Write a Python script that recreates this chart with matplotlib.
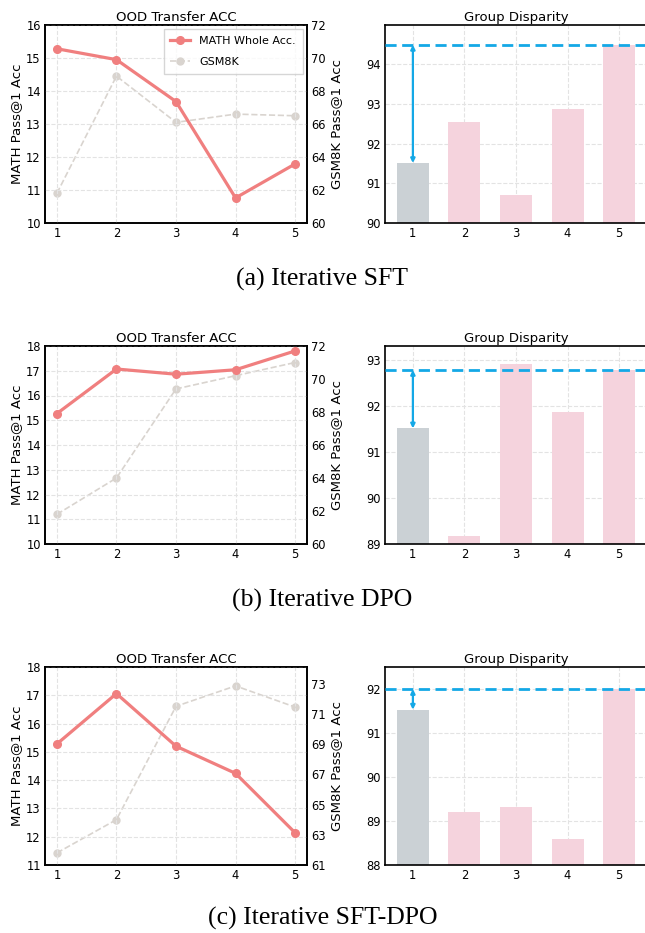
import matplotlib.pyplot as plt
import numpy as np

iters = [1, 2, 3, 4, 5]

# (a) Iterative SFT
sft_math = [15.28, 14.95, 13.68, 10.76, 11.79]
sft_gsm = [61.8, 68.9, 66.1, 66.6, 66.5]
sft_group = [91.51, 92.54, 90.71, 92.88, 94.49]

# (b) Iterative DPO
dpo_math = [15.27, 17.07, 16.86, 17.04, 17.80]
dpo_gsm = [61.8, 64.0, 69.4, 70.2, 71.0]
dpo_group = [91.51, 89.18, 92.90, 91.86, 92.78]

# (c) Iterative SFT-DPO
sftdpo_math = [15.28, 17.06, 15.20, 14.24, 12.14]
sftdpo_gsm = [61.8, 64.0, 71.5, 72.85, 71.45]
sftdpo_group = [91.53, 89.21, 89.32, 88.58, 92.0]

captions = ["(a) Iterative SFT", "(b) Iterative DPO", "(c) Iterative SFT-DPO"]

rows = [
    (sft_math, sft_gsm, sft_group, (10, 16), (60, 72), np.arange(60, 73, 2), (90, 94.99)),
    (dpo_math, dpo_gsm, dpo_group, (10, 18), (60, 72), np.arange(60, 73, 2), (89, 93.3)),
    (sftdpo_math, sftdpo_gsm, sftdpo_group, (11, 18), (61, 74.1), np.arange(61, 74, 2), (88, 92.5)),
]

MATH_C = "#f07f7f"
GSM_C = "#d9d4cf"
BASE_C = "#cbd1d5"
BAR_C = "#f5d3dd"
LINE_C = "#14a8e6"
GRID_C = "#e3e3e3"

W, H = 645, 933
fig = plt.figure(figsize=(W / 100, H / 100), dpi=100)

# axes tops in pixels for each row
tops = [25, 346, 667]
ax_h = 198
cap_y = [279, 600, 918]


def style(ax):
    ax.grid(True, color=GRID_C, linestyle="--", linewidth=0.8)
    ax.set_axisbelow(True)
    ax.tick_params(length=0, labelsize=8.3, pad=3)
    for s in ax.spines.values():
        s.set_color("black")
        s.set_linewidth(1.2)


for r, (m, g, grp, mlim, glim, gticks, blim) in enumerate(rows):
    b = 1 - (tops[r] + ax_h) / H
    ax = fig.add_axes([45 / W, b, 262 / W, ax_h / H])
    style(ax)
    l1, = ax.plot(iters, m, color=MATH_C, lw=2.3, marker="o", ms=5.5,
                  label="MATH Whole Acc.", zorder=3)
    ax.set_ylim(*mlim)
    ax.set_xticks(iters)
    ax.set_ylabel("MATH Pass@1 Acc", fontsize=9.5, labelpad=2)
    ax.set_title("OOD Transfer ACC", fontsize=9.5, pad=3)

    ax2 = ax.twinx()
    style(ax2)
    ax2.grid(False)
    l2, = ax2.plot(iters, g, color=GSM_C, lw=1.2, ls="--", marker="o", ms=5,
                   label="GSM8K", zorder=2)
    ax2.set_ylim(*glim)
    ax2.set_yticks(gticks)
    ax2.set_ylabel("GSM8K Pass@1 Acc", fontsize=9.5, labelpad=3)
    ax.set_zorder(ax2.get_zorder() + 1)
    ax.patch.set_visible(False)

    if r == 0:
        ax.legend(handles=[l1, l2], loc="upper right", fontsize=8,
                  frameon=True, fancybox=False, edgecolor="#cccccc",
                  borderpad=0.6, labelspacing=1.0, handlelength=1.8,
                  borderaxespad=0.4)

    bx = fig.add_axes([385 / W, b, 262 / W, ax_h / H])
    style(bx)
    colors = [BASE_C] + [BAR_C] * (len(grp) - 1)
    bx.bar(iters, grp, width=0.62, color=colors, zorder=2)
    bx.set_ylim(*blim)
    bx.set_xticks(iters)
    bx.set_title("Group Disparity", fontsize=9.5, pad=3)
    bx.axhline(grp[-1], color=LINE_C, ls="--", lw=2, dashes=(4, 2), zorder=3)
    bx.annotate("", xy=(1, grp[-1]), xytext=(1, grp[0]),
                arrowprops=dict(arrowstyle="<|-|>", color=LINE_C, lw=1.6,
                                mutation_scale=6, shrinkA=0, shrinkB=0),
                zorder=4)

    fig.text(0.5, 1 - cap_y[r] / H, captions[r], ha="center", va="center",
             fontsize=18.5, family="Liberation Serif")

fig.savefig("out.png", dpi=100)
